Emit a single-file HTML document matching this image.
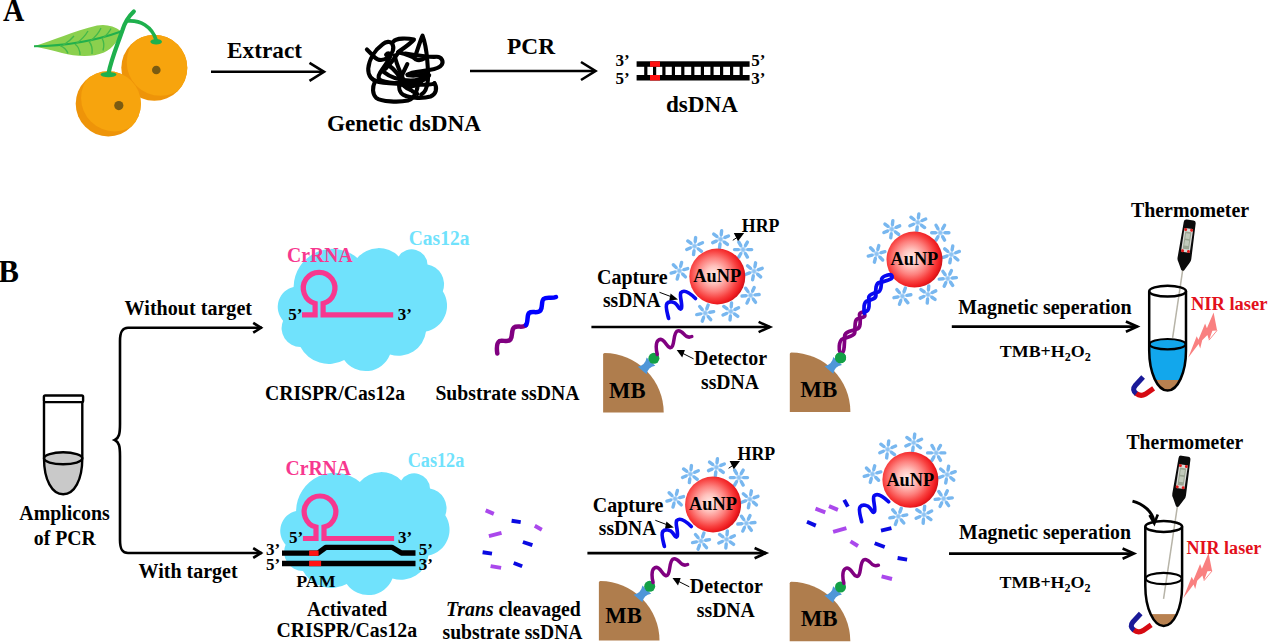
<!DOCTYPE html>
<html>
<head>
<meta charset="utf-8">
<title>CRISPR/Cas12a photothermal assay schematic</title>
<style>
html,body{margin:0;padding:0;background:#fff;}
body{width:1268px;height:642px;overflow:hidden;font-family:"Liberation Serif",serif;}
svg{display:block;}
text{font-family:"Liberation Serif",serif;font-weight:bold;fill:#000;}
.t20{font-size:20px;}
.t18{font-size:18px;}
.t17{font-size:17px;}
.pk{fill:#f7388f;}
.cy{fill:#70e2fc;}
.rd{fill:#ee3338;}
.ar{fill:none;stroke:#000;stroke-width:2.6;stroke-linecap:butt;stroke-linejoin:miter;}
</style>
</head>
<body>
<svg width="1268" height="642" viewBox="0 0 1268 642">
<defs>
  <radialGradient id="gAu" cx="0.44" cy="0.47" r="0.56">
    <stop offset="0" stop-color="#ffece9"/>
    <stop offset="0.28" stop-color="#ffc1bc"/>
    <stop offset="0.54" stop-color="#fd807d"/>
    <stop offset="0.76" stop-color="#f8403f"/>
    <stop offset="0.91" stop-color="#f01c20"/>
    <stop offset="1" stop-color="#cf1218"/>
  </radialGradient>
  <!-- snowflake (HRP) -->
  <g id="sf">
    <g stroke="#aed4f7" stroke-width="2.1" stroke-linecap="round">
      <line x1="0" y1="-5" x2="0" y2="5"/>
      <line x1="-4.33" y1="-2.5" x2="4.33" y2="2.5"/>
      <line x1="-4.33" y1="2.5" x2="4.33" y2="-2.5"/>
    </g>
    <g stroke="#78b7ef" stroke-width="3.4" stroke-linecap="round">
      <line x1="0" y1="-4.8" x2="0" y2="-8.6"/><line x1="0" y1="4.8" x2="0" y2="8.6"/>
      <line x1="-4.16" y1="-2.4" x2="-7.45" y2="-4.3"/><line x1="4.16" y1="2.4" x2="7.45" y2="4.3"/>
      <line x1="-4.16" y1="2.4" x2="-7.45" y2="4.3"/><line x1="4.16" y1="-2.4" x2="7.45" y2="-4.3"/>
    </g>
    <circle r="1.7" fill="#8fc4f3"/>
  </g>
  <!-- AuNP with HRP corona -->
  <g id="aunp">
    <use href="#sf" transform="translate(-22.7,-30.4) rotate(7)"/>
    <use href="#sf" transform="translate(3.3,-37.2) rotate(7)"/>
    <use href="#sf" transform="translate(25.8,-26.9) rotate(30)"/>
    <use href="#sf" transform="translate(36.8,-5.2) rotate(10)"/>
    <use href="#sf" transform="translate(33.3,18.8) rotate(25)"/>
    <use href="#sf" transform="translate(13.5,34.9) rotate(5)"/>
    <use href="#sf" transform="translate(-12.1,36.6) rotate(20)"/>
    <use href="#sf" transform="translate(-37.9,-5.7) rotate(15)"/>
    <circle r="28" fill="url(#gAu)"/>
    <text class="t18" x="-24" y="5.7" textLength="47.8" lengthAdjust="spacingAndGlyphs">AuNP</text>
  </g>
  <!-- MB quarter-bead -->
  <g id="mb">
    <path d="M0,59.6 L0,1.5 Q0,0 1.5,0 A59.6,59.6 0 0 1 60.6,59.6 Z" fill="#af7d4d"/>
    <path d="M34.7,13.8 Q42.4,12 43.5,4.5 L52.2,12.7 Q44.7,14 43.5,21.3 Z" fill="#4f96d8"/>
    <circle cx="50.8" cy="5.3" r="5.5" fill="#13a046"/>
  </g>

  <!-- tube pieces (origin = centre of top rim) -->
  <clipPath id="tubeclip"><path d="M-18.4,0 V59.4 A18.4,40 0 0 0 18.4,59.4 V0 Z"/></clipPath>
  <g id="tubeoutline" fill="none" stroke="#000" stroke-width="2.5">
    <path d="M-18.4,0 V59.4 A18.4,40 0 0 0 18.4,59.4 V0"/>
    <ellipse cx="0" cy="0" rx="18.4" ry="5.4"/>
  </g>
  <!-- thermometer (origin = neck tip, unrotated, pointing down) -->
  <g id="thermo">
    <path d="M-6,-48.5 Q-6,-51.3 -3.4,-51.3 H3.4 Q6,-51.3 6,-48.5 L6.9,-12.5 Q7,-10 5.6,-8.3 L1.4,-0.5 Q0,0.7 -1.4,-0.5 L-5.6,-8.3 Q-7,-10 -6.9,-12.5 Z" fill="#0b0b0b"/>
    <rect x="-4.4" y="-42.6" width="8.8" height="24" rx="0.8" fill="#d9d9d6"/>
    <rect x="-3.1" y="-39.4" width="6.2" height="17.6" fill="#9aa592"/>
    <rect x="-2.1" y="-37.6" width="4.2" height="5.4" fill="#c2cabb"/>
    <rect x="-2.1" y="-30.6" width="4.2" height="5.4" fill="#c2cabb"/>
    <g fill="#e01a1a">
      <circle cx="-3" cy="-41.3" r="1.5"/><circle cx="3" cy="-41.3" r="1.5"/>
      <circle cx="-3" cy="-19.8" r="1.5"/><circle cx="3" cy="-19.8" r="1.5"/>
    </g>
  </g>
  <!-- magnet (origin arbitrary: absolute coords of top-row magnet) -->
  <g id="magnet" fill="none" stroke-width="5.1" stroke-linecap="butt">
    <path d="M1135.9,393.3 Q1140.5,397 1145.5,394 L1153.6,388.4" stroke="#d60a12"/>
    <path d="M1143.1,377.1 L1135.3,385.5 Q1131.5,390 1136.3,393.6" stroke="#1a1a98"/>
  </g>
  <!-- laser bolt (absolute coords of top-row) -->
  <g id="bolt">
    <path d="M1188.2,357.7 L1196.7,336.2 L1198.4,339.8 L1205.1,323.6 L1206.9,328.3 L1213.6,312.4 L1217.1,330.4 L1212.4,330.8 L1209,340.2 L1207.4,335 L1202.2,340.3 L1200.2,348.4 L1198.6,344 Z" fill="#f98080"/>
    <path d="M1217.1,330.4 L1209,340.2" stroke="#f98080" stroke-width="0.9" fill="none"/>
  </g>
</defs>

<!-- ============ PANEL A ============ -->
<text x="3" y="21" font-size="31" textLength="21.3" lengthAdjust="spacingAndGlyphs">A</text>


<!-- fruit -->
<g id="fruit">
  <!-- leaf -->
  <path d="M34,46.3 C52,41 74,31 97,25.6 C105,24 113.5,25.5 121.5,31.5 C118.5,40 113,48.5 104,52.5 C92,57.5 76,56.5 62,53 C52,50.5 42,48 34,46.3 Z" fill="#8bd04e"/>
  <path d="M34,46.3 C60,46 92,42 121,31.5" fill="none" stroke="#21b04c" stroke-width="2"/>
  <g fill="none" stroke="#43b84a" stroke-width="1.3">
    <path d="M63,45.2 Q70,41 74,36"/><path d="M76,43.8 Q84,38 88,31"/><path d="M90,41.2 Q98,35 101,28"/><path d="M103,38 Q109,33 111,28.5"/>
    <path d="M60,45.6 Q66,48 68,53.5"/><path d="M75,44 Q80,48 80,55"/><path d="M89,41.5 Q93,46 92,54"/><path d="M102,38.3 Q105,43 103,50.5"/>
  </g>
  <!-- oranges -->
  <clipPath id="co1"><circle cx="154.3" cy="67.8" r="33"/></clipPath>
  <clipPath id="co2"><circle cx="108.3" cy="103.8" r="32.6"/></clipPath>
  <circle cx="154.3" cy="67.8" r="33" fill="#ee9409"/>
  <circle cx="160.5" cy="62" r="33.8" fill="#f7a40d" clip-path="url(#co1)"/>
  <circle cx="108.3" cy="103.8" r="32.6" fill="#ee9409"/>
  <circle cx="114.5" cy="98" r="33.4" fill="#f7a40d" clip-path="url(#co2)"/>
  <circle cx="156.3" cy="70" r="4.3" fill="#7a5b12"/>
  <circle cx="118.8" cy="105.6" r="4.6" fill="#7a5b12"/>
  <!-- stems -->
  <path d="M133.8,11.5 C128,17 125,22 122.5,30 C117,46 111,60 108.5,73.5" fill="none" stroke="#1eb04d" stroke-width="4.2" stroke-linecap="round"/>
  <path d="M127.5,21 C140,20 152,26 156.3,40.5" fill="none" stroke="#1eb04d" stroke-width="3.6" stroke-linecap="round"/>
  <ellipse cx="108.5" cy="74.6" rx="8" ry="2.7" fill="#1eb04d"/>
  <ellipse cx="156.2" cy="41.8" rx="5.8" ry="2.8" fill="#1eb04d"/>
</g>

<!-- Extract arrow -->
<text x="227" y="57.5" font-size="23" textLength="75" lengthAdjust="spacingAndGlyphs">Extract</text>
<path class="ar" d="M211,71.8 H323.5"/>
<path class="ar" d="M309.5,62.8 L324,71.8 L309.5,80.8" stroke-linejoin="miter"/>

<!-- genetic DNA scribble -->
<g id="scribble" transform="translate(355,25) scale(0.13245)" fill="none" stroke="#000" stroke-width="31" stroke-linecap="round" stroke-linejoin="round">
  <path d="M90,185 L150,245 C175,270 215,270 250,245 C285,220 300,170 280,140 C265,120 235,125 210,145 C150,190 105,260 100,330 C97,385 130,420 180,430 C260,445 360,445 450,450 C520,452 590,450 600,440"/>
  <path d="M290,125 C310,95 400,100 445,110 C420,140 360,180 325,205 C370,215 430,230 460,260 C480,270 510,262 530,250"/>
  <path d="M455,235 C475,180 495,110 510,80 C525,120 540,200 545,260 C550,320 555,380 550,420 C545,470 530,510 500,525"/>
  <path d="M380,215 C440,225 560,245 615,240 C655,238 670,275 655,300 C640,325 590,335 560,340 C500,352 430,350 395,375"/>
  <path d="M150,430 C130,470 130,520 160,550 C200,580 330,585 400,570 C440,560 460,520 470,480 C475,455 470,430 460,420"/>
  <path d="M600,440 C625,480 610,525 570,540 C520,555 420,555 370,530 C335,510 325,470 340,430 C350,390 370,340 395,295"/>
  <path d="M235,225 C250,205 275,215 265,240 C250,275 215,320 190,360 C175,385 170,410 200,420 C260,440 370,440 450,430 C500,425 540,410 560,380"/>
  <path d="M300,230 C310,290 340,350 360,400 C380,450 420,500 470,520"/>
  <path d="M210,350 C260,390 340,420 420,420 C470,420 520,400 530,370"/>
  <path d="M330,205 C300,250 260,300 230,330"/>
  <path d="M250,300 C290,330 330,370 350,420 C360,450 380,480 420,490"/>
  <path d="M400,380 C450,385 500,380 540,365"/>
  <path d="M330,440 C380,470 450,470 500,440"/>
</g>
<text x="327" y="131" font-size="23" textLength="154" lengthAdjust="spacingAndGlyphs">Genetic dsDNA</text>

<!-- PCR arrow -->
<text x="507" y="53.5" font-size="23" textLength="48" lengthAdjust="spacingAndGlyphs">PCR</text>
<path class="ar" d="M470,71 H595"/>
<path class="ar" d="M581,62 L595.5,71 L581,80"/>

<!-- dsDNA ladder -->
<text class="t17" x="615.5" y="66.3">3&#8217;</text>
<text class="t17" x="615.5" y="84.3">5&#8217;</text>
<text class="t17" x="751.3" y="66.3">5&#8217;</text>
<text class="t17" x="751.3" y="84.3">3&#8217;</text>
<g id="ladder">
  <rect x="636.6" y="61.3" width="113" height="5.5" fill="#000"/>
  <rect x="636.6" y="75" width="113" height="5.5" fill="#000"/>
  <g fill="#000">
    <rect x="644.2" y="66" width="3.2" height="10"/>
    <rect x="653" y="66" width="3.2" height="10"/>
    <rect x="662.3" y="66" width="3.2" height="10"/>
    <rect x="671.8" y="66" width="3.2" height="10"/>
    <rect x="681.2" y="66" width="3.2" height="10"/>
    <rect x="691.2" y="66" width="3.2" height="10"/>
    <rect x="700.8" y="66" width="3.2" height="10"/>
    <rect x="710.4" y="66" width="3.2" height="10"/>
    <rect x="720" y="66" width="3.2" height="10"/>
    <rect x="730" y="66" width="3.2" height="10"/>
    <rect x="739.6" y="66" width="3.2" height="10"/>
  </g>
  <rect x="650" y="61.3" width="10" height="5.5" fill="#ff1010"/>
  <rect x="650" y="75" width="10" height="5.5" fill="#ff1010"/>
</g>
<text x="666" y="111.8" font-size="23" textLength="72" lengthAdjust="spacingAndGlyphs">dsDNA</text>

<!-- PANEL B label -->
<text x="-1.7" y="281.8" font-size="31">B</text>


<!-- ============ PANEL B : left ============ -->
<!-- amplicon tube -->
<g id="amptube">
  <path d="M44,458.3 C44,480 52,494.3 63.2,494.3 C74.4,494.3 82.3,480 82.3,458.3 A19.15,6 0 0 0 44,458.3 Z" fill="#c9c9c9"/>
  <ellipse cx="63.15" cy="458.3" rx="19.15" ry="6" fill="#c9c9c9" stroke="#000" stroke-width="2.4"/>
  <path d="M44,402 V458.3 C44,480 52,494.3 63.2,494.3 C74.4,494.3 82.3,480 82.3,458.3 V402" fill="none" stroke="#000" stroke-width="2.4"/>
  <rect x="43.9" y="395.5" width="39.2" height="6.6" rx="1.3" fill="#fff" stroke="#000" stroke-width="2.4"/>
</g>
<text class="t20" x="19.3" y="520.3" textLength="90.5" lengthAdjust="spacingAndGlyphs">Amplicons</text>
<text class="t20" x="33.8" y="544.5" textLength="62" lengthAdjust="spacingAndGlyphs">of PCR</text>

<!-- brace + arrows -->
<path class="ar" d="M262,327.8 H128 C122,327.8 120,332 120,341 V424 C120,434 119,438 114.8,440 C119,442 120,446 120,456 V540 C120,549 122,553 128,553 H262" stroke-width="2.4"/>
<path class="ar" d="M253.2,322.9 L261,327.8 L253.2,332.7" stroke-width="3.8"/>
<path class="ar" d="M253.2,548.1 L261,553 L253.2,557.9" stroke-width="3.8"/>
<text class="t20" x="124.6" y="315" textLength="127.4" lengthAdjust="spacingAndGlyphs">Without target</text>
<text class="t20" x="138.6" y="577.8" textLength="99" lengthAdjust="spacingAndGlyphs">With target</text>

<!-- ============ top row : cloud without target ============ -->
<g id="cloud1" class="cy">
  <path d="M283.1,320.7 A20.5,20.5 0 0 1 293.6,286.9 A38.8,38.8 0 0 1 357.3,257.9 A28.3,28.3 0 0 1 398.7,256.4 A15.7,15.7 0 0 1 427.5,264.4 A20.2,20.2 0 0 1 442.8,291.3 A26.5,26.5 0 0 1 426,331.6 A27.8,27.8 0 0 1 390,354.5 A26.2,26.2 0 0 1 344.2,360 A32,32 0 0 1 300.5,346.9 A18.8,18.8 0 0 1 283.1,320.7 Z"/>
</g>
<text class="t20 cy" x="408.8" y="245.4" textLength="60.6" lengthAdjust="spacingAndGlyphs">Cas12a</text>
<text class="t20 pk" x="287" y="261.7" textLength="65.6" lengthAdjust="spacingAndGlyphs">CrRNA</text>
<g id="crrna" fill="none" stroke="#f7388f" stroke-width="5.2" stroke-linejoin="miter">
  <path d="M302,314.8 H315.1 V303.4 A15.8,15.8 0 1 1 323.1,303.4 V314.8 H393.2"/>
</g>
<text class="t17" x="288.3" y="319.8">5&#8217;</text>
<text class="t17" x="397.8" y="319.8">3&#8217;</text>
<text class="t20" x="265" y="399.5" textLength="140" lengthAdjust="spacingAndGlyphs">CRISPR/Cas12a</text>

<!-- substrate ssDNA -->
<g fill="none" stroke-width="4.5" stroke-linecap="round">
  <path d="M497.3,353.5 C496.5,348 496.5,343 499.5,341 C503,339.5 507.5,343 510.5,339.5 C513,336 511,330 514,327.5 C517,325 523,328.5 526,325" stroke="#800080"/>
  <path d="M526,325 C528.5,322 526.5,316 529,313 C532,310.5 537.5,314 540.5,310.5 C543,307 541,301.5 543.5,299 C546.5,296.5 552,299 556,297" stroke="#0000ff"/>
</g>
<text class="t20" x="435.4" y="399.8" textLength="144" lengthAdjust="spacingAndGlyphs">Substrate ssDNA</text>


<!-- ============ top row : stage 3 (capture) ============ -->
<g id="stage3">
  <use href="#aunp" x="717.3" y="276.5"/>
  <!-- capture squiggle -->
  <path id="capsq" d="M668.6,318.4 C667,312 665,306 667,303.5 C669.5,300.5 675,302 677,305 C679,308 680.5,310.5 681.5,308 C682.5,303 679,295 681,292.5 C684,289.5 689,292 695.5,298.5" fill="none" stroke="#0808f0" stroke-width="3.7" stroke-linecap="round"/>
  <text class="t18" x="741.8" y="232.2" textLength="37.6" lengthAdjust="spacingAndGlyphs">HRP</text>
  <path d="M733.8,232.9 L744.2,232.9 L738,241.3 Z" fill="#000"/>
  <path d="M738.5,236.5 L732.8,240.3" stroke="#000" stroke-width="1" fill="none"/>
  <text class="t20" x="597" y="283.5" textLength="70.6" lengthAdjust="spacingAndGlyphs">Capture</text>
  <text class="t20" x="603" y="307" textLength="57.5" lengthAdjust="spacingAndGlyphs">ssDNA</text>
  <path d="M659.5,292.3 L672,297" stroke="#000" stroke-width="1" fill="none"/>
  <path d="M678,299.6 L670.6,293.4 L669.2,300.6 Z" fill="#000"/>
  <!-- MB + detector -->
  <use href="#mb" x="603.1" y="353"/>
  <path id="detsq" d="M657.3,354.5 C656,350 655.5,343 658,340.5 C661,337.5 664,341 666.5,344.5 C668.5,347.5 671,349 672.5,346 C674.5,342 673.5,334 677,331.2 C680.5,329 683,333.5 686,336 C688,337.5 690,337.3 691.8,336.5" fill="none" stroke="#800080" stroke-width="3.5" stroke-linecap="round"/>
  <path d="M676.7,350 L684.9,350 L682.2,357.6 Z" fill="#000"/>
  <path d="M683,353.5 L693.5,358.8" stroke="#000" stroke-width="1" fill="none"/>
  <text class="t20" x="694" y="365.3" textLength="73" lengthAdjust="spacingAndGlyphs">Detector</text>
  <text class="t20" x="701" y="389" textLength="58" lengthAdjust="spacingAndGlyphs">ssDNA</text>
</g>

<text x="609" y="397.5" font-size="23" textLength="36.5" lengthAdjust="spacingAndGlyphs">MB</text>
<g id="arrow3">
  <path class="ar" d="M591.4,327 H770"/>
  <path class="ar" d="M758.6,321.9 L770,327 L758.6,332.1" stroke-width="3.6"/>
</g>

<!-- ============ top row : stage 4 (assembled) ============ -->
<g id="stage4">
  <use href="#aunp" x="914.5" y="259.6"/>
  <use href="#mb" x="789.8" y="352.4"/>
  <text x="800.3" y="396.6" font-size="23" textLength="37" lengthAdjust="spacingAndGlyphs">MB</text>
  <g id="helix" fill="none" stroke-width="3.7" stroke-linecap="round" stroke-linejoin="round">
    <path d="M841.3,353.0 Q843.7,353.2 844.2,346.6 Q844.7,340.0 844.6,336.6 Q844.6,333.2 848.9,331.6 Q853.3,330.0 856.5,329.3 Q859.7,328.5 860.1,324.0 Q860.5,319.5 859.7,316.5 Q858.9,313.4 861.2,312.6 Q863.4,311.8 864.7,311.5 L866.0,311.3" stroke="#800080"/><path d="M841.3,353.0 Q838.9,352.8 839.3,346.2 Q839.8,339.6 843.0,338.7 Q846.2,337.8 850.6,336.2 Q854.9,334.6 854.9,331.4 Q854.8,328.1 855.2,323.6 Q855.6,319.1 858.1,318.6 Q860.7,318.0 862.9,317.2 Q865.2,316.4 864.8,314.9 L864.4,313.4" stroke="#800080"/>
    <path d="M866.0,311.3 Q868.5,310.9 869.0,306.5 Q869.4,302.2 868.8,299.0 Q868.2,295.8 871.2,294.4 Q874.2,293.0 877.2,292.4 Q880.2,291.9 880.9,287.7 Q881.6,283.6 881.5,280.4 Q881.3,277.2 886.2,275.6 Q891.0,273.9 891.4,275.0 L891.8,276.2" stroke="#0808f0"/><path d="M864.4,313.4 Q863.7,310.3 864.1,306.0 Q864.6,301.6 867.5,300.9 Q870.4,300.2 873.4,298.8 Q876.4,297.4 875.9,294.2 Q875.4,291.0 876.1,286.9 Q876.8,282.7 879.9,282.3 Q882.9,281.9 887.8,280.2 Q892.6,278.5 892.2,277.4 L891.8,276.2" stroke="#0808f0"/>
  </g>
  <circle cx="840.6" cy="357.8" r="5.5" fill="#13a046"/>
</g>

<!-- ============ top row : magnetic separation ============ -->
<text class="t20" x="958.2" y="313.8" textLength="173.5" lengthAdjust="spacingAndGlyphs">Magnetic seperation</text>
<path class="ar" d="M951.8,326.6 H1137.3"/>
<path class="ar" d="M1125.9,321.5 L1137.3,326.6 L1125.9,331.7" stroke-width="3.6"/>
<text class="t17" x="999.8" y="357.2" textLength="91" lengthAdjust="spacingAndGlyphs">TMB+H<tspan font-size="11.5" dy="4">2</tspan><tspan dy="-4">O</tspan><tspan font-size="11.5" dy="4">2</tspan></text>


<!-- ============ top row : tube + thermometer ============ -->
<text class="t20" x="1130.9" y="217.3" textLength="118.2" lengthAdjust="spacingAndGlyphs">Thermometer</text>
<g id="tube1">
  <g transform="translate(1182.6,270.7) rotate(8.45)">
    <line x1="0" y1="-1" x2="0" y2="68" stroke="#b7b4a8" stroke-width="1.5"/>
    <use href="#thermo"/>
  </g>
  <g transform="translate(1167.6,291.2)">
    <g clip-path="url(#tubeclip)">
      <rect x="-20" y="53" width="40" height="50" fill="#12a7ec"/>
      <rect x="-20" y="88.8" width="40" height="14" fill="#b88150"/>
    </g>
    <ellipse cx="0" cy="53" rx="18" ry="5.2" fill="#12a7ec" stroke="#000" stroke-width="2.2"/>
    <use href="#tubeoutline"/>
  </g>
  <use href="#magnet"/>
  <use href="#bolt"/>
  <text class="t18" x="1190.9" y="309.8" textLength="76.6" lengthAdjust="spacingAndGlyphs" style="fill:#e3101c">NIR laser</text>
</g>


<!-- ============ bottom row : activated cloud ============ -->
<use href="#cloud1" transform="translate(2.5,224)"/>
<text class="t20 cy" x="407.7" y="466.8" textLength="56.6" lengthAdjust="spacingAndGlyphs">Cas12a</text>
<text class="t20 pk" x="285.5" y="474.6" textLength="65.5" lengthAdjust="spacingAndGlyphs">CrRNA</text>
<use href="#crrna" transform="translate(0.9,223.7)"/>
<text class="t17" x="289" y="542.5">5&#8217;</text>
<text class="t17" x="398" y="542.5">3&#8217;</text>
<!-- target dsDNA -->
<g fill="none" stroke="#000" stroke-width="5.3" stroke-linejoin="round">
  <path d="M282,553.2 H318 L325.8,547.3 H391.9 L401.4,553 H415.5"/>
  <path d="M282,563.5 H415.5"/>
</g>
<rect x="309.1" y="550.55" width="9.5" height="5.3" fill="#ff1414"/>
<rect x="309.1" y="560.85" width="12" height="5.3" fill="#ff1414"/>
<text class="t17" x="266" y="554.5">3&#8217;</text>
<text class="t17" x="266" y="569.5">5&#8217;</text>
<text class="t17" x="418.7" y="554.5">5&#8217;</text>
<text class="t17" x="418.7" y="569.5">3&#8217;</text>
<text class="t17" x="296.2" y="587" textLength="39.4" lengthAdjust="spacingAndGlyphs">PAM</text>
<text class="t20" x="306.9" y="616.3" textLength="80.3" lengthAdjust="spacingAndGlyphs">Activated</text>
<text class="t20" x="276.4" y="636.7" textLength="140.7" lengthAdjust="spacingAndGlyphs">CRISPR/Cas12a</text>

<!-- cleaved fragments -->
<g id="frag1" fill="none" stroke-width="3.9">
  <g stroke="#aa48ec">
    <path d="M485.7,510.4 L493.8,513.9"/><path d="M534.8,525.8 L541.8,529.8"/><path d="M488.9,536.1 L501.5,532.9"/><path d="M490.6,566.1 L501.1,567.9"/>
  </g>
  <g stroke="#0a0ae2">
    <path d="M511.6,520.7 L520.7,522.1"/><path d="M522.9,542 L532.4,545.2"/><path d="M482.6,552.2 L492,553.6"/><path d="M513.7,563 L522.2,566.2"/>
  </g>
</g>
<text class="t20" x="446" y="616" textLength="134.8" lengthAdjust="spacingAndGlyphs"><tspan font-style="italic">Trans</tspan> cleavaged</text>
<text class="t20" x="442.5" y="638.5" textLength="140" lengthAdjust="spacingAndGlyphs">substrate ssDNA</text>

<!-- ============ bottom row : stage 3 ============ -->
<use href="#stage3" transform="translate(-4.2,228)"/>
<text x="605.3" y="623.4" font-size="23" textLength="36.5" lengthAdjust="spacingAndGlyphs">MB</text>
<use href="#arrow3" transform="translate(-4,226.1)"/>

<!-- ============ bottom row : stage 4 (not assembled) ============ -->
<g id="stage4b">
  <use href="#aunp" x="910.4" y="479.8"/>
  <use href="#capsq" transform="translate(193.1,203.3)"/>
  <use href="#mb" x="789.7" y="581.7"/>
  <text x="800.7" y="625.7" font-size="23" textLength="37" lengthAdjust="spacingAndGlyphs">MB</text>
  <use href="#detsq" transform="translate(186.6,228.7)"/>
  <g fill="none" stroke-width="3.9">
    <g stroke="#aa48ec">
      <path d="M815.5,508.6 L825.3,512.4"/><path d="M829,506.1 L837.9,509.9"/><path d="M833.1,531.9 L846.4,528.1"/><path d="M850.5,541.3 L858,546"/><path d="M881.6,576.3 L892,579"/>
    </g>
    <g stroke="#0a0ae2">
      <path d="M844.2,499.8 L847.9,506.7"/><path d="M807,521.8 L815.8,525.6"/><path d="M881,530.6 L891.4,528.1"/><path d="M874.7,543.2 L884.7,547"/><path d="M897.6,558 L907.1,559.6"/>
    </g>
  </g>
</g>

<!-- ============ bottom row : magnetic separation ============ -->
<text class="t20" x="959" y="539.4" textLength="172" lengthAdjust="spacingAndGlyphs">Magnetic seperation</text>
<path class="ar" d="M949,553.6 H1134"/>
<path class="ar" d="M1122.6,548.5 L1134,553.6 L1122.6,558.7" stroke-width="3.6"/>
<text class="t17" x="999.6" y="587.5" textLength="91" lengthAdjust="spacingAndGlyphs">TMB+H<tspan font-size="11.5" dy="4">2</tspan><tspan dy="-4">O</tspan><tspan font-size="11.5" dy="4">2</tspan></text>

<!-- ============ bottom row : tube + thermometer ============ -->
<text class="t20" x="1126.5" y="449.2" textLength="116.7" lengthAdjust="spacingAndGlyphs">Thermometer</text>
<g id="tube2">
  <g transform="translate(1177.3,506.9) rotate(8.5)">
    <line x1="0" y1="-1" x2="0" y2="93" stroke="#b7b4a8" stroke-width="1.5"/>
    <use href="#thermo"/>
  </g>
  <g transform="translate(1163.7,526.5)">
    <g clip-path="url(#tubeclip)">
      <rect x="-20" y="87.6" width="40" height="14" fill="#b88150"/>
    </g>
    <ellipse cx="0" cy="52" rx="18" ry="5.6" fill="none" stroke="#000" stroke-width="2.2"/>
    <use href="#tubeoutline"/>
  </g>
  <path d="M1132.5,501.1 C1143,504 1152,511 1154,521" fill="none" stroke="#000" stroke-width="3"/>
  <path d="M1149.5,515 L1154.3,523.5 L1157.8,514.5" fill="none" stroke="#000" stroke-width="2.6"/>
  <use href="#magnet" transform="translate(-2.4,236.5)"/>
  <use href="#bolt" transform="translate(-5,240.5)"/>
  <text class="t18" x="1186.5" y="553.7" textLength="74.7" lengthAdjust="spacingAndGlyphs" style="fill:#e3101c">NIR laser</text>
</g>

</svg>
</body>
</html>
